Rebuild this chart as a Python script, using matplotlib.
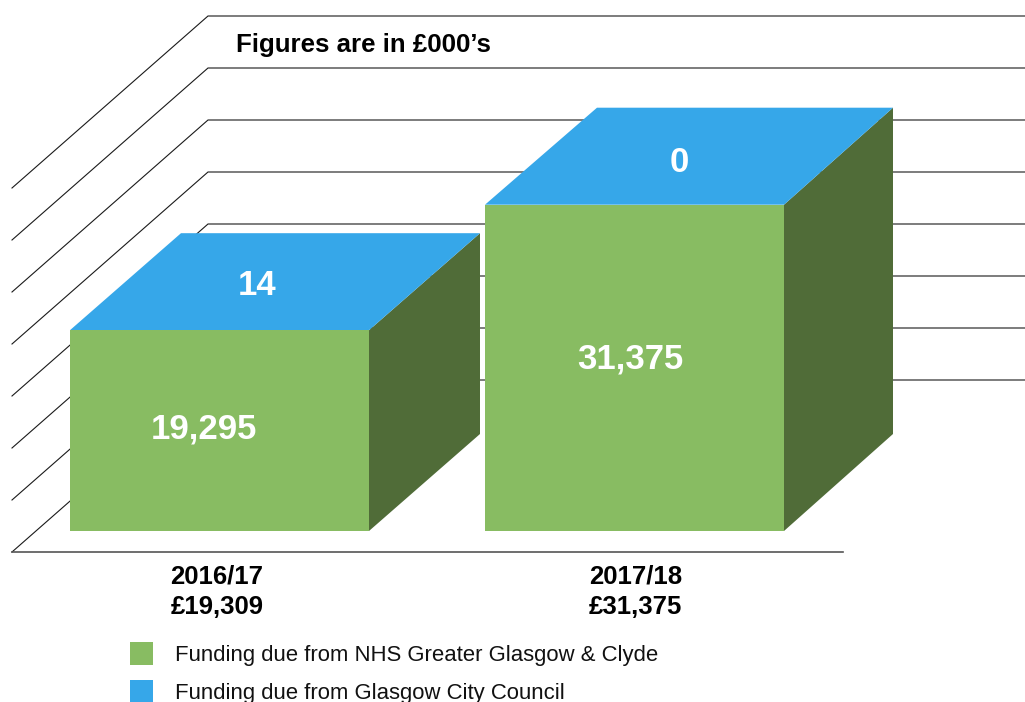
import matplotlib
matplotlib.use("Agg")
import matplotlib.pyplot as plt
from matplotlib.patches import Polygon, Rectangle

plt.rcParams['font.family'] = ['Liberation Sans', 'DejaVu Sans']

years = ["2016/17", "2017/18"]
totals = ["£19,309", "£31,375"]
nhs_values = [19295, 31375]
council_values = [14, 0]
nhs_labels = ["19,295", "31,375"]
council_labels = ["14", "0"]
grid_values = [0, 5000, 10000, 15000, 20000, 25000, 30000, 35000]
legend_labels = ["Funding due from NHS Greater Glasgow & Clyde",
                 "Funding due from Glasgow City Council"]
note = "Figures are in £000\u2019s"

GREEN, BLUE, DARK = "#88BC62", "#36A7E9", "#506C38"

# oblique projection, in pixels
BASE_FRONT = 552.0
SCALE = 364.0 / 35000.0
WALL_DX, WALL_DY = 196.0, -172.0
BAR_BASE = 531.0
BAR_DY = -97.0
BAR_X = [(70, 369), (485, 784)]
BAR_BACK_X = [(181, 480), (597, 893)]
NHS_LABEL_POS = [(204, 429), (630, 358.5)]
COUNCIL_LABEL_POS = [(257, 285.5), (679.5, 162)]
AXIS_LABEL_X = [217, 635.5]


def h(v):
    return v * SCALE


fig = plt.figure(figsize=(10.25, 7.02), dpi=100, facecolor="white")
ax = fig.add_axes([0, 0, 1, 1])
ax.set_xlim(0, 1025)
ax.set_ylim(702, 0)
ax.axis("off")

for g in grid_values:
    y0 = BASE_FRONT - h(g)
    y1 = y0 + WALL_DY
    ax.plot([12, 12 + WALL_DX, 1025], [y0, y1, y1], color="#1a1a1a", lw=0.8,
            solid_joinstyle="miter", zorder=1)
ax.plot([12, 843], [BASE_FRONT, BASE_FRONT], color="#555555", lw=1.2, zorder=1)

for i, (x0, x1) in enumerate(BAR_X):
    bx0, bx1 = BAR_BACK_X[i]
    top = BAR_BASE - h(nhs_values[i] + council_values[i])
    bot = BAR_BASE
    ax.add_patch(Polygon([(x1, bot), (bx1, bot + BAR_DY), (bx1, top + BAR_DY), (x1, top)],
                         closed=True, fc=DARK, ec="none", zorder=3))
    ax.add_patch(Polygon([(x0, top), (bx0, top + BAR_DY), (bx1, top + BAR_DY), (x1, top)],
                         closed=True, fc=BLUE, ec="none", zorder=3))
    ax.add_patch(Rectangle((x0, top), x1 - x0, bot - top, fc=GREEN, ec="none", zorder=4))
    ax.text(*NHS_LABEL_POS[i], nhs_labels[i], color="white", fontsize=25,
            fontweight="bold", ha="center", va="center", zorder=5)
    ax.text(*COUNCIL_LABEL_POS[i], council_labels[i], color="white", fontsize=25,
            fontweight="bold", ha="center", va="center", zorder=5)
    ax.text(AXIS_LABEL_X[i], 576, years[i], fontsize=18.5, fontweight="bold",
            ha="center", va="center", zorder=5)
    ax.text(AXIS_LABEL_X[i], 607.5, totals[i], fontsize=18.5, fontweight="bold",
            ha="center", va="center", zorder=5)

ax.text(236, 45, note, fontsize=18.6, fontweight="bold", ha="left", va="center", zorder=5)

for label, color, y in zip(legend_labels, [GREEN, BLUE], [642, 680]):
    ax.add_patch(Rectangle((130, y), 23, 23, fc=color, ec="none", zorder=5))
    ax.text(175, y + 14, label, fontsize=15.97, ha="left", va="center",
            color="#111111", zorder=5)

fig.savefig("out.png", dpi=100, facecolor="white")
